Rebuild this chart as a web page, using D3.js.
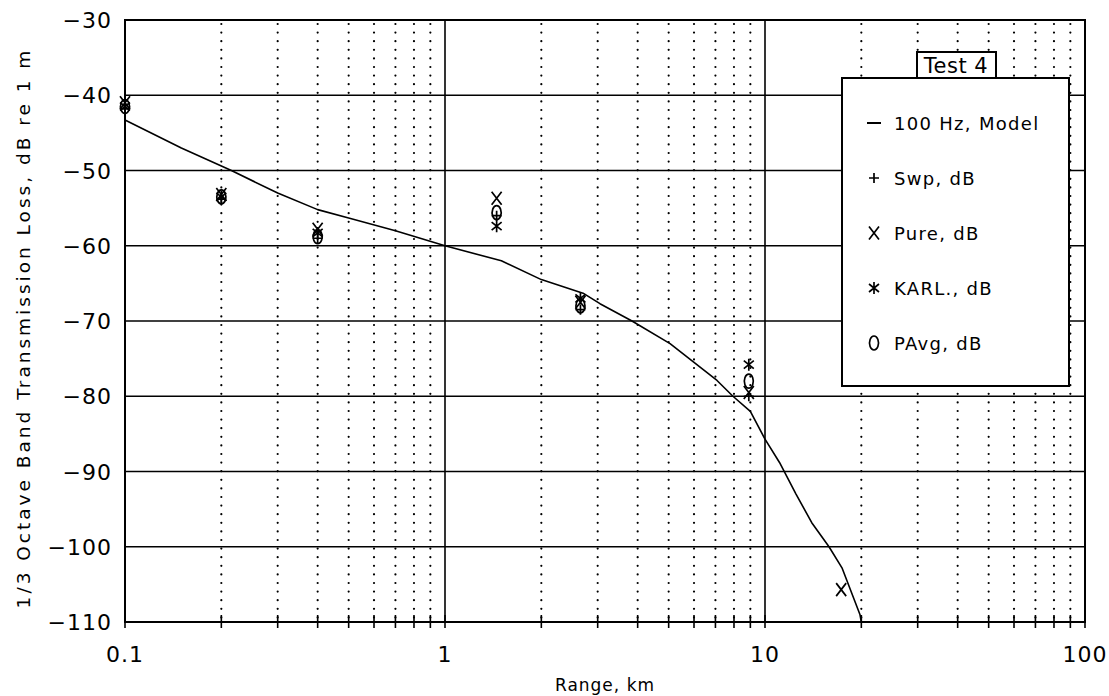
<!DOCTYPE html>
<html><head><meta charset="utf-8">
<script src="https://cdn.jsdelivr.net/npm/d3@7"></script>
<style>body{margin:0;background:#fff}svg{display:block}</style>
</head><body>
<svg id="c" width="1109" height="696"></svg>
<script>
// ---- data ----
const yTicks = [-30,-40,-50,-60,-70,-80,-90,-100,-110];
const xTickLabels = ["0.1","1","10","100"];
const xTickValues = [0.1,1,10,100];

const modelRange = [0.1,0.15,0.215,0.3,0.4,0.5,0.7,1,1.5,2,2.7,3.05,3.84,5.05,7.08,7.94,9,10,11.1,12.5,14,15.85,17.4,19.8,20];
const modelLoss  = [-43.3,-47,-50,-53,-55.2,-56.3,-58,-60,-62,-64.5,-66.3,-67.7,-70,-73,-77.9,-80,-82,-85.7,-88.8,-93,-96.8,-100,-102.8,-109,-110];

const swpRange  = [0.1,0.2,0.4,1.45,2.65,8.9];
const swpLoss   = [-41.8,-53.8,-59.0,-56.0,-68.5,-80.0];
const pureRange = [0.1,0.2,0.4,1.45,2.65,8.9,17.3];
const pureLoss  = [-41.0,-53.2,-57.8,-53.7,-67.5,-79.5,-105.7];
const karlRange = [0.1,0.2,0.4,1.45,2.65,8.9];
const karlLoss  = [-41.5,-53.5,-58.3,-57.4,-67.0,-75.8];
const pavgRange = [0.1,0.2,0.4,1.45,2.65,8.9];
const pavgLoss  = [-41.5,-53.5,-58.8,-55.6,-68.0,-78.0];

const legendLabels = ["100 Hz, Model","Swp, dB","Pure, dB","KARL., dB","PAvg, dB"];
const titleText = "Test 4";

// ---- layout ----
const svg = d3.select("#c");
const L=125, R=1085, T=20, B=622;
const x = d3.scaleLog().domain([0.1,100]).range([L,R]);
const y = d3.scaleLinear().domain([-110,-30]).range([B,T]);
const font = "'DejaVu Sans', Verdana, sans-serif";

// minor dotted verticals
const minors = [];
[0.1,1,10].forEach(d=>{ for(let k=2;k<=9;k++) minors.push(d*k); });
svg.append("g").selectAll("line").data(minors).join("line")
  .attr("x1",d=>x(d)).attr("x2",d=>x(d)).attr("y1",T+4).attr("y2",B)
  .attr("stroke","#000").attr("stroke-width",2.2).attr("stroke-linecap","round")
  .attr("stroke-dasharray","0,8.6");

// horizontal grid
svg.append("g").selectAll("line").data(yTicks).join("line")
  .attr("x1",L).attr("x2",R).attr("y1",d=>y(d)).attr("y2",d=>y(d))
  .attr("stroke","#000").attr("stroke-width",1.6);
// major verticals
svg.append("g").selectAll("line").data([1,10]).join("line")
  .attr("x1",d=>x(d)).attr("x2",d=>x(d)).attr("y1",T).attr("y2",B)
  .attr("stroke","#000").attr("stroke-width",1.6);
// frame
svg.append("rect").attr("x",L).attr("y",T).attr("width",R-L).attr("height",B-T)
  .attr("fill","none").attr("stroke","#000").attr("stroke-width",2);

// bottom ticks
svg.append("g").selectAll("line").data(minors.concat(xTickValues)).join("line")
  .attr("x1",d=>x(d)).attr("x2",d=>x(d)).attr("y1",B-7).attr("y2",B+6)
  .attr("stroke","#000").attr("stroke-width",1.6);

// axis labels
svg.append("g").selectAll("text").data(yTicks).join("text")
  .attr("x",112).attr("y",d=>y(d)+8).attr("text-anchor","end")
  .attr("font-family",font).attr("font-size",22).attr("letter-spacing",1)
  .text(d=>String(d).replace("-","\u2212"));
svg.append("g").selectAll("text").data(xTickValues).join("text")
  .attr("x",d=>x(d)).attr("y",662).attr("text-anchor","middle")
  .attr("font-family",font).attr("font-size",22).attr("letter-spacing",1)
  .text((d,i)=>xTickLabels[i]);
svg.append("text").attr("x",605).attr("y",691).attr("text-anchor","middle")
  .attr("font-family",font).attr("font-size",17).attr("letter-spacing",1).text("Range, km");
svg.append("text").attr("transform","translate(30,328) rotate(-90)")
  .attr("text-anchor","middle").attr("font-family",font).attr("font-size",18.5)
  .attr("letter-spacing",3)
  .text("1/3 Octave Band Transmission Loss, dB re 1 m");

// model line
const line = d3.line().x(d=>x(d[0])).y(d=>y(d[1]));
svg.append("path").datum(modelRange.map((r,i)=>[r,modelLoss[i]]))
  .attr("d",line).attr("fill","none").attr("stroke","#000").attr("stroke-width",1.6)
  .attr("stroke-linejoin","round");

// marker paths
const s=5;
const sym = {
  plus: "M"+(-s)+",0H"+s+"M0,"+(-s)+"V"+s,
  cross:"M"+(-s)+","+(-s*1.3)+"L"+s+","+(s*1.3)+"M"+(-s)+","+(s*1.3)+"L"+s+","+(-s*1.3),
  star: "M"+(-s)+","+(-s*0.8)+"L"+s+","+(s*0.8)+"M"+(-s)+","+(s*0.8)+"L"+s+","+(-s*0.8)+"M0,"+(-s*1.2)+"V"+(s*1.2),
  oval: "M0,-7A4.5,7 0 1,0 0.01,-7Z"
};
function drawSeries(rs,vs,key){
  svg.append("g").selectAll("path").data(rs.map((r,i)=>[r,vs[i]])).join("path")
    .attr("transform",d=>`translate(${x(d[0])},${y(d[1])})`)
    .attr("d",sym[key]).attr("fill","none").attr("stroke","#000").attr("stroke-width",1.7);
}
drawSeries(pavgRange,pavgLoss,"oval");
drawSeries(swpRange,swpLoss,"plus");
drawSeries(pureRange,pureLoss,"cross");
drawSeries(karlRange,karlLoss,"star");

// legend
const lg = svg.append("g");
lg.append("rect").attr("x",842).attr("y",78).attr("width",227).attr("height",308)
  .attr("fill","#fff").attr("stroke","#000").attr("stroke-width",2);
lg.append("rect").attr("x",917).attr("y",52).attr("width",79).attr("height",26)
  .attr("fill","#fff").attr("stroke","#000").attr("stroke-width",2);
lg.append("text").attr("x",956).attr("y",73).attr("text-anchor","middle")
  .attr("font-family",font).attr("font-size",21).attr("letter-spacing",0.5).text(titleText);
const keys=["line","plus","cross","star","oval"];
legendLabels.forEach((lab,i)=>{
  const yy = 123 + i*55;
  if(keys[i]==="line"){
    lg.append("line").attr("x1",867).attr("x2",881).attr("y1",yy).attr("y2",yy)
      .attr("stroke","#000").attr("stroke-width",2);
  } else {
    lg.append("path").attr("transform",`translate(874,${yy})`).attr("d",sym[keys[i]])
      .attr("fill","none").attr("stroke","#000").attr("stroke-width",1.7);
  }
  lg.append("text").attr("x",894).attr("y",yy+7).attr("font-family",font)
    .attr("font-size",18).attr("letter-spacing",1.3).text(lab);
});
</script>
</body></html>
